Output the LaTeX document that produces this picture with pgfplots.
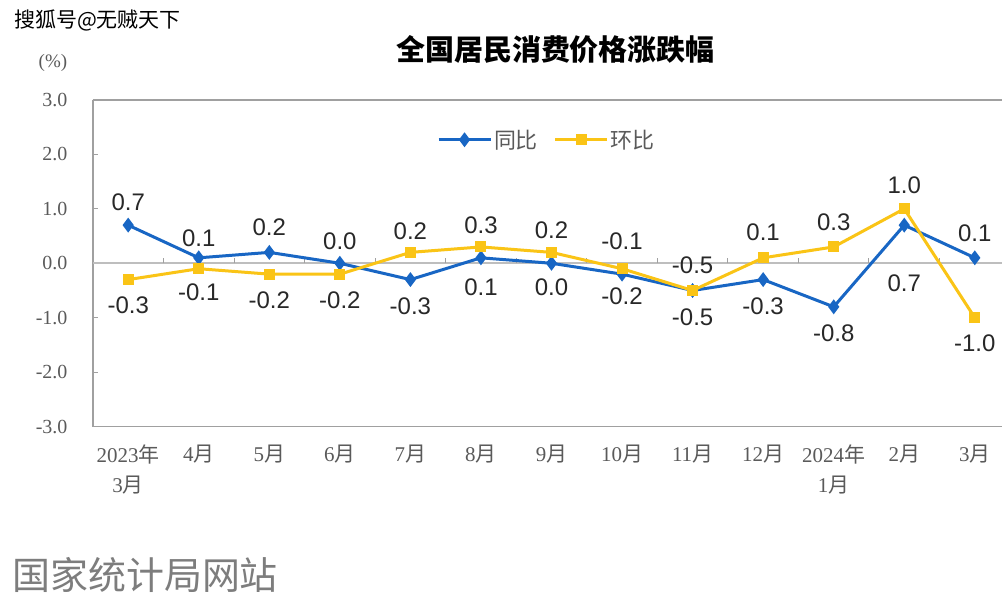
\documentclass[border=0pt]{standalone}
\usepackage{fontspec}
\setmainfont{Liberation Sans}
\newfontfamily\cjk{Noto Sans CJK SC}
\newfontfamily\serif{Liberation Serif}
\usepackage{pgfplots}
\pgfplotsset{compat=1.18}
\usepackage{pgfplotstable}
\definecolor{tbblue}{RGB}{24,102,196}
\definecolor{hbyellow}{RGB}{250,196,22}
\definecolor{txtgray}{RGB}{90,90,90}
\definecolor{lblgray}{RGB}{40,40,40}
\definecolor{framegray}{RGB}{160,160,160}
\definecolor{zerogray}{RGB}{190,190,190}

\newcommand{\Y}[1]{#1{\cjk 年}}
\newcommand{\M}[1]{#1{\cjk 月}}

\pgfplotstableread{
x y dy
0 0.7 23
1 0.1 20
2 0.2 25
3 0.0 22
4 -0.3 -27
5 0.1 -29
6 0.0 -24
7 -0.2 -22
8 -0.5 -27
9 -0.3 -27
10 -0.8 -26
11 0.7 -58
12 0.1 25
}\tongbi

\pgfplotstableread{
x y dy
0 -0.3 -26
1 -0.1 -24
2 -0.2 -26
3 -0.2 -26
4 0.2 21
5 0.3 22
6 0.2 22
7 -0.1 27
8 -0.5 25
9 0.1 26
10 0.3 25
11 1.0 24
12 -1.0 -26
}\huanbi

\pgfplotsset{vallabels/.style={
  nodes near coords={\pgfmathprintnumber[fixed,fixed zerofill,precision=1,assume math mode=true]{\pgfplotspointmeta}},
  visualization depends on={\thisrow{dy}\as\dy},
  nodes near coords style={anchor=center, yshift=\dy pt, text=lblgray, font=\fontsize{24}{24}\selectfont},
}}

\begin{document}
\begin{tikzpicture}
\fill[white] (0pt,0pt) rectangle (1003pt,-605pt);
\begin{axis}[
  at={(93pt,-427pt)}, anchor=south west,
  scale only axis, width=910pt, height=327pt,
  xmin=-0.5, xmax=12.387, ymin=-3, ymax=3,
  axis x line*=box, axis y line*=left,
  axis line style={framegray, line width=1.6pt, -},
  xtick={0,...,12},
  xticklabels={{\Y{2023}\\\M{3}},\M{4},\M{5},\M{6},\M{7},\M{8},\M{9},\M{10},\M{11},\M{12},{\Y{2024}\\\M{1}},\M{2},\M{3}},
  xtick style={draw=none},
  xticklabel style={align=center, anchor=north, yshift=-15pt, text=txtgray, font=\serif\fontsize{21}{30}\selectfont},
  ytick={-3,-2,-1,0,1,2,3},
  ytick style={framegray, line width=1pt},
  tick align=inside, major tick length=5pt,
  yticklabel style={anchor=east, xshift=-22pt, text=txtgray, font=\serif\fontsize{20}{20}\selectfont},
  /pgf/number format/.cd, fixed, fixed zerofill, precision=1, assume math mode=true,
  /pgfplots/.cd,
  extra y ticks={0}, extra y tick labels={},
  extra y tick style={grid=major, major grid style={zerogray, line width=1.8pt}, major tick length=0pt},
  legend style={at={(rel axis cs:0.375,0.878)}, anchor=west, draw=none, fill=none,
    legend columns=-1, font=\cjk\fontsize{22}{22}\selectfont, text=txtgray,
    /tikz/every even column/.append style={column sep=14pt}},
  legend image code/.code={\draw[#1, mark repeat=2, mark phase=2] plot coordinates {(0pt,0pt) (26pt,0pt) (52pt,0pt)};},
  clip=false,
]
\addplot[ycomb, framegray, line width=1pt, no marks, forget plot] coordinates {
(0.5,0.1) (1.5,0.1) (2.5,0.1) (3.5,0.1) (4.5,0.1) (5.5,0.1) (6.5,0.1) (7.5,0.1) (8.5,0.1) (9.5,0.1) (10.5,0.1) (11.5,0.1)};
\addplot[tbblue, line width=3pt, mark=diamond*, mark size=5pt, mark options={solid}, vallabels] table[x=x, y=y] {\tongbi};
\addlegendentry{同比}
\addplot[hbyellow, line width=3pt, mark=square*, mark size=4pt, mark options={solid}, vallabels] table[x=x, y=y] {\huanbi};
\addlegendentry{环比}
\end{axis}
\node[anchor=center, text=black] at (556pt,-50pt) {\cjk\bfseries\fontsize{29}{29}\selectfont 全国居民消费价格涨跌幅};
\node[anchor=west, text=black, inner sep=0pt] at (14pt,-21pt) {\cjk\fontsize{21}{21}\selectfont 搜狐号@无贼天下};
\node[anchor=center, text=txtgray] at (53pt,-63pt) {\serif\fontsize{19}{19}\selectfont (\%)};
\node[anchor=west, text={rgb,255:red,125;green,125;blue,125}, inner sep=0pt] at (12pt,-575pt) {\cjk\fontsize{38}{38}\selectfont 国家统计局网站};
\end{tikzpicture}
\end{document}
